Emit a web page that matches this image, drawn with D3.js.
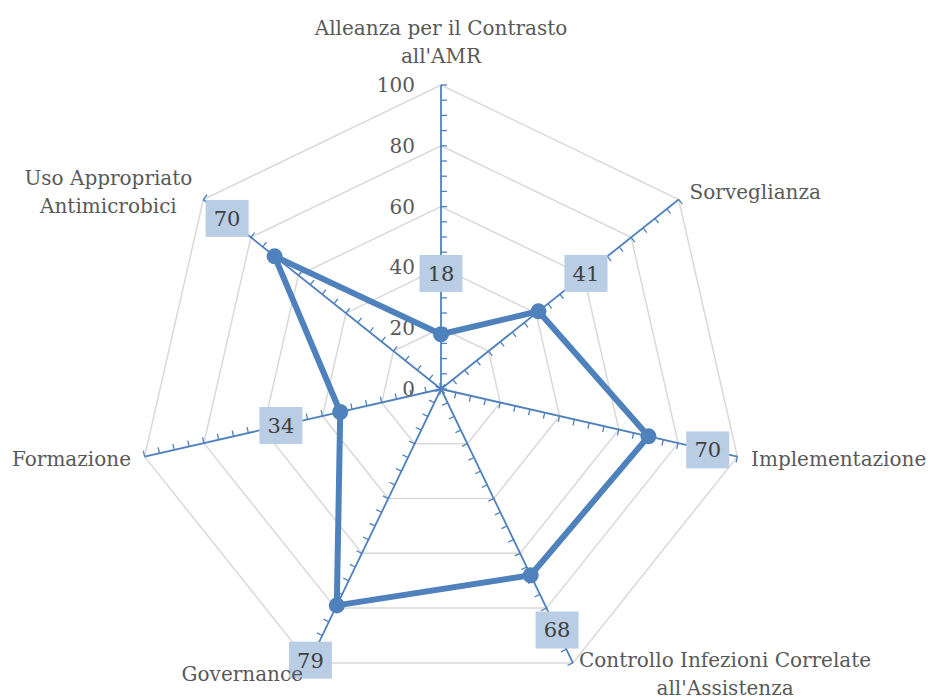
<!DOCTYPE html>
<html>
<head>
<meta charset="utf-8">
<script src="https://cdn.jsdelivr.net/npm/d3@7"></script>
<style>
  body { margin: 0; background: #fff; }
  svg text { font-family: "DejaVu Serif", "Liberation Serif", serif; }
</style>
</head>
<body>
<svg id="chart" width="934" height="698"></svg>
<script>
// categorie (righe multiple per le etichette lunghe)
var categories = [
  ["Alleanza per il Contrasto", "all'AMR"],
  ["Sorveglianza"],
  ["Implementazione"],
  ["Controllo Infezioni Correlate", "all'Assistenza"],
  ["Governance"],
  ["Formazione"],
  ["Uso Appropriato", "Antimicrobici"]
];
var values = [18, 41, 70, 68, 79, 34, 70];
var tickValues = [0, 20, 40, 60, 80, 100];
var minorStep = 5;

var svg = d3.select("#chart"),
    width = 934,
    height = 698;

var cx = 441, cy = 389, R = 304;
var blue = "#4f81bd", gridCol = "#d9d9d9", textCol = "#595959";
var fontSize = 20;

var r = d3.scaleLinear().domain([0, 100]).range([0, R]);
var n = categories.length;
var angle = d3.scaleLinear().domain([0, n]).range([0, 2 * Math.PI]);

function pt(i, v) {
  var a = angle(i);
  return [cx + r(v) * Math.sin(a), cy - r(v) * Math.cos(a)];
}

var g = svg.append("g");

// griglia (eptagoni)
var gridLine = d3.lineRadial()
    .angle(function(d, i) { return angle(i); })
    .radius(function(d) { return r(d); })
    .curve(d3.curveLinearClosed);

g.append("g").attr("class", "grid")
  .attr("transform", "translate(" + cx + "," + cy + ")")
  .selectAll("path")
  .data(tickValues.slice(1))
  .enter().append("path")
  .attr("d", function(t) { return gridLine(d3.range(n).map(function() { return t; })); })
  .attr("fill", "none")
  .attr("stroke", gridCol)
  .attr("stroke-width", 1.5);

// assi blu con tacche
var minorTicks = d3.range(0, 100 + minorStep, minorStep);
var axes = g.append("g").attr("class", "axes");
d3.range(n).forEach(function(i) {
  var a = angle(i);
  var p0 = pt(i, 0), p1 = pt(i, 100);
  axes.append("line")
    .attr("x1", p0[0]).attr("y1", p0[1])
    .attr("x2", p1[0]).attr("y2", p1[1])
    .attr("stroke", blue)
    .attr("stroke-width", 1.8);
  // tacca perpendicolare, lato orario
  var nx = Math.cos(a), ny = Math.sin(a), tl = 6;
  axes.selectAll(".tk" + i)
    .data(minorTicks)
    .enter().append("line")
    .attr("class", "tk" + i)
    .attr("x1", function(t) { return pt(i, t)[0]; })
    .attr("y1", function(t) { return pt(i, t)[1]; })
    .attr("x2", function(t) { return pt(i, t)[0] + nx * tl; })
    .attr("y2", function(t) { return pt(i, t)[1] + ny * tl; })
    .attr("stroke", blue)
    .attr("stroke-width", 1.3);
});

// etichette asse valori
g.append("g").attr("class", "tick-labels")
  .selectAll("text")
  .data(tickValues)
  .enter().append("text")
  .attr("x", cx - 26)
  .attr("y", function(t) { return cy - r(t); })
  .attr("dy", "0.35em")
  .attr("text-anchor", "end")
  .attr("font-size", fontSize)
  .attr("fill", textCol)
  .text(function(t) { return t; });

// serie
var seriesLine = d3.line()
    .x(function(d, i) { return pt(i, d)[0]; })
    .y(function(d, i) { return pt(i, d)[1]; })
    .curve(d3.curveLinearClosed);

g.append("path")
  .datum(values)
  .attr("d", seriesLine)
  .attr("fill", "none")
  .attr("stroke", blue)
  .attr("stroke-width", 6)
  .attr("stroke-linejoin", "round");

g.append("g").attr("class", "markers")
  .selectAll("circle")
  .data(values)
  .enter().append("circle")
  .attr("cx", function(d, i) { return pt(i, d)[0]; })
  .attr("cy", function(d, i) { return pt(i, d)[1]; })
  .attr("r", 8)
  .attr("fill", blue);

// etichette dati (box azzurri)
var labelOffset = 20;
var dl = g.append("g").attr("class", "data-labels")
  .selectAll("g")
  .data(values)
  .enter().append("g")
  .attr("transform", function(d, i) {
    var p = pt(i, Math.min(d + labelOffset, 100));
    return "translate(" + p[0] + "," + p[1] + ")";
  });

dl.append("rect")
  .attr("x", -21.5).attr("y", -18.5)
  .attr("width", 43).attr("height", 37)
  .attr("fill", "#b9cde5");

dl.append("text")
  .attr("text-anchor", "middle")
  .attr("dy", "0.35em")
  .attr("font-size", fontSize + 1)
  .attr("fill", "#404040")
  .text(function(d) { return d; });

// etichette categorie
var lineH = 28;
var cat = g.append("g").attr("class", "cat-labels");
categories.forEach(function(lines, i) {
  var a = angle(i);
  var s = Math.sin(a), c = Math.cos(a);
  var end = pt(i, 100);
  var t = cat.append("text")
    .attr("font-size", fontSize)
    .attr("fill", textCol);
  lines.forEach(function(l) {
    t.append("tspan").text(l);
  });
  var widths = [];
  t.selectAll("tspan").each(function() { widths.push(this.getComputedTextLength()); });
  var w = d3.max(widths);
  var centerX, baseY;
  if (Math.abs(s) < 0.1) {
    centerX = end[0];
    baseY = end[1] - 22 - (lines.length - 1) * lineH;
  } else {
    var xEdge = end[0] + s * 14;
    centerX = s > 0 ? xEdge + w / 2 : xEdge - w / 2;
    var midY = end[1] - c * 12;
    baseY = midY - (lines.length - 1) * lineH / 2 + 7;
  }
  t.selectAll("tspan")
    .attr("x", centerX)
    .attr("y", function(d, k) { return baseY + k * lineH; })
    .attr("text-anchor", "middle");
});
</script>
</body>
</html>
